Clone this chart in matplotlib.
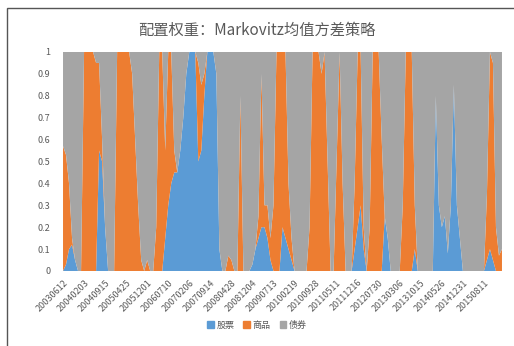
# Markovitz mean-variance allocation weights, 100% stacked area

import matplotlib
matplotlib.use('Agg')
import matplotlib.pyplot as plt
from matplotlib.patches import Patch, Rectangle

plt.rcParams['font.family'] = ['Noto Sans CJK SC', 'DejaVu Sans']

series_names = ['股票', '商品', '债券']
colors = ['#5B9BD5', '#ED7D31', '#A5A5A5']

stock = [0, 0.03, 0.10, 0.12, 0.05, 0, 0, 0, 0, 0,
         0, 0, 0.55, 0.50, 0.20, 0, 0, 0, 0, 0,
         0, 0, 0, 0, 0, 0, 0, 0, 0, 0,
         0, 0, 0, 0, 0.15, 0.30, 0.40, 0.45, 0.45, 0.55,
         0.70, 0.90, 1, 1, 1, 0.50, 0.55, 0.80, 1, 1,
         1, 0.90, 0.10, 0, 0, 0, 0, 0, 0, 0,
         0, 0, 0, 0.03, 0.10, 0.15, 0.20, 0.20, 0.15, 0.05,
         0, 0, 0, 0.20, 0.15, 0.10, 0.05, 0, 0, 0,
         0, 0, 0, 0, 0, 0, 0, 0, 0, 0,
         0, 0, 0, 0, 0, 0, 0, 0.10, 0.20, 0.30,
         0.10, 0, 0, 0, 0, 0, 0, 0.25, 0.15, 0,
         0, 0, 0, 0, 0, 0, 0, 0.10, 0, 0,
         0, 0, 0, 0, 0.80, 0.30, 0.20, 0.25, 0.08, 0.30,
         0.85, 0.30, 0.15, 0, 0, 0, 0, 0, 0, 0,
         0, 0.05, 0.10, 0.05, 0, 0, 0]

commodity = [0.57, 0.50, 0.30, 0.03, 0, 0, 0, 1, 1, 1,
             1, 0.95, 0.40, 0.10, 0, 0, 0, 0, 1, 1,
             1, 1, 1, 0.90, 0.60, 0.30, 0.05, 0, 0.05, 0,
             0, 0.20, 1, 1, 0.40, 0.70, 0.60, 0.10, 0, 0,
             0, 0, 0, 0, 0, 0.45, 0.30, 0.10, 0, 0,
             0, 0, 0, 0, 0, 0.07, 0.05, 0, 0, 0.80,
             0, 0, 0, 0, 0, 0.10, 0.70, 0.10, 0.15, 0.10,
             0.30, 1, 1, 0.80, 0.85, 0.30, 0.10, 0, 0, 0,
             0, 0, 0.20, 1, 1, 1, 0.90, 1, 0.50, 0,
             0, 0.50, 1, 0.40, 0, 0, 0, 0.30, 0.80, 0.70,
             0.10, 0, 0.20, 1, 1, 1, 0.60, 0, 0, 0,
             0, 0, 0, 0.30, 1, 1, 1, 0.20, 0, 0,
             0, 0, 0, 0, 0, 0, 0, 0, 0, 0,
             0, 0, 0, 0, 0, 0, 0, 0, 0, 0,
             0, 0.30, 0.90, 0.90, 0.20, 0.07, 0.10]

bond = [0.43, 0.47, 0.60, 0.85, 0.95, 1, 1, 0, 0, 0,
        0, 0.05, 0.05, 0.40, 0.80, 1, 1, 1, 0, 0,
        0, 0, 0, 0.10, 0.40, 0.70, 0.95, 1, 0.95, 1,
        1, 0.80, 0, 0, 0.45, 0, 0, 0.45, 0.55, 0.45,
        0.30, 0.10, 0, 0, 0, 0.05, 0.15, 0.10, 0, 0,
        0, 0.10, 0.90, 1, 1, 0.93, 0.95, 1, 1, 0.20,
        1, 1, 1, 0.97, 0.90, 0.75, 0.10, 0.70, 0.70, 0.85,
        0.70, 0, 0, 0, 0, 0.60, 0.85, 1, 1, 1,
        1, 1, 0.80, 0, 0, 0, 0.10, 0, 0.50, 1,
        1, 0.50, 0, 0.60, 1, 1, 1, 0.60, 0, 0,
        0.80, 1, 0.80, 0, 0, 0, 0.40, 0.75, 0.85, 1,
        1, 1, 1, 0.70, 0, 0, 0, 0.70, 1, 1,
        1, 1, 1, 1, 0.20, 0.70, 0.80, 0.75, 0.92, 0.70,
        0.15, 0.70, 0.85, 1, 1, 1, 1, 1, 1, 1,
        1, 0.65, 0, 0.05, 0.80, 0.93, 0.90]

tick_labels = ['20030612', '20040203', '20040915', '20050425', '20051201',
               '20060710', '20070206', '20070914', '20080428', '20081204',
               '20090713', '20100219', '20100928', '20110511', '20111216',
               '20120730', '20130306', '20131015', '20140526', '20141231',
               '20150811']
label_step = 7

txt = '#595959'

fig = plt.figure(figsize=(5.14, 3.46), dpi=100)
ax = fig.add_axes([0.1226, 0.2168, 0.854, 0.633])

x = list(range(len(stock)))
ax.stackplot(x, stock, commodity, bond, colors=colors, linewidth=0)

ax.set_xlim(0, len(stock) - 1)
ax.set_ylim(0, 1)
ax.set_yticks([i / 10 for i in range(11)])
ax.set_yticklabels(['0', '0.1', '0.2', '0.3', '0.4', '0.5', '0.6', '0.7', '0.8', '0.9', '1'],
                   fontsize=6.5, color=txt)
ax.set_xticks(x[::label_step])
ax.set_xticklabels(tick_labels, fontsize=6.5, color=txt, rotation=45,
                   ha='right', rotation_mode='anchor')
ax.tick_params(length=0, pad=9)
ax.tick_params(axis='x', pad=5)
for s in ax.spines.values():
    s.set_visible(False)

fig.text(0.5, 0.913, '配置权重：Markovitz均值方差策略', ha='center', va='center',
         fontsize=11, color=txt)

handles = [Patch(color=c) for c in colors]
fig.legend(handles, series_names, loc='center', bbox_to_anchor=(0.5, 0.06), ncol=3,
           frameon=False, fontsize=6.5, handlelength=0.7, handleheight=0.7,
           handletextpad=0.3, columnspacing=1.0, labelcolor=txt)

fig.add_artist(Rectangle((7 / 514, -0.1), 1.2, 1.1 - 8 / 346, transform=fig.transFigure,
                         fill=False, edgecolor='#555555', linewidth=1.0, clip_on=False))

plt.savefig('out.png', dpi=100)
